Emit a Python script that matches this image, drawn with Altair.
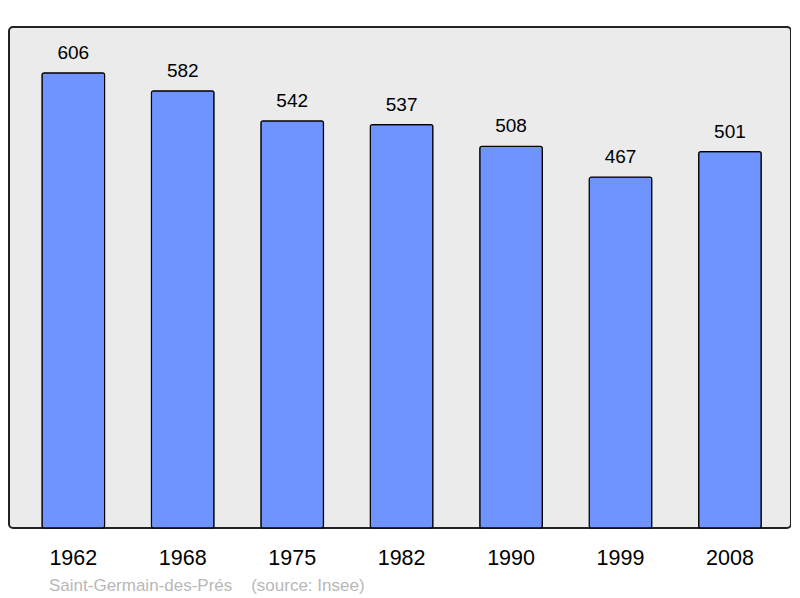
import altair as alt
import pandas as pd

years = ["1962", "1968", "1975", "1982", "1990", "1999", "2008"]
population = [606, 582, 542, 537, 508, 467, 501]
source_text = "Saint-Germain-des-Prés\u00a0\u00a0\u00a0\u00a0(source: Insee)"

df = pd.DataFrame({"year": years, "pop": population})

x = alt.X("year:N", sort=years, title=None,
          scale=alt.Scale(paddingInner=0.428, paddingOuter=0.2866, align=0.526),
          axis=alt.Axis(labelAngle=0, labelFontSize=21.5, labelFont="Liberation Sans",
                        labelColor="#000", ticks=False, tickSize=0, domain=False,
                        labelPadding=36, labelBaseline="alphabetic"))
y = alt.Y("pop:Q", title=None, scale=alt.Scale(domain=[0, 667], nice=False, zero=True),
          axis=None)

bars = alt.Chart(df).mark_bar(color="#7094ff", stroke="#000", strokeWidth=1.2,
                              cornerRadius=2).encode(x=x, y=y)
labels = alt.Chart(df).mark_text(baseline="alphabetic", dy=-14, fontSize=19,
                                 font="Liberation Sans", color="#000").encode(
    x=alt.X("year:N", sort=years), y="pop:Q", text="pop:Q")

chart = alt.layer(bars, labels).properties(
    width=782, height=501,
    autosize=alt.AutoSizeParams(type="none"),
    padding={"left": 1, "top": 19, "right": 0, "bottom": 70},
    title=alt.TitleParams(source_text, orient="bottom", anchor="start", dx=40,
                          offset=22, fontSize=17, font="Liberation Sans",
                          fontWeight="normal", color="#b8b8b8", baseline="alphabetic"),
).configure_view(fill="#ebebeb", stroke="#222", strokeWidth=2, cornerRadius=4)

chart.save("out.html", embed_options={"renderer": "svg", "actions": False})
